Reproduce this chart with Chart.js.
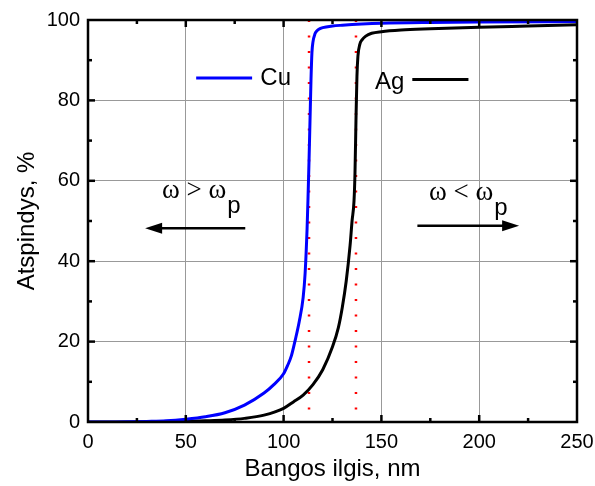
<!DOCTYPE html>
<html>
<head>
<meta charset="utf-8">
<script src="https://cdn.jsdelivr.net/npm/chart.js@4.4.1/dist/chart.umd.min.js"></script>
<style>
  html, body { margin: 0; padding: 0; background: #fff; }
</style>
</head>
<body>
<canvas id="myChart" width="595" height="486"></canvas>
<script>
// Reflectance of Cu and Ag vs wavelength
const cuX = [0, 10, 20, 30, 40, 50, 60, 70, 80, 90, 95, 100, 102, 104, 106, 108, 110, 111, 112, 112.5, 113, 113.5, 114, 114.5, 115, 116, 117, 118, 120, 125, 130, 140, 150, 175, 200, 250];
const cuY = [0, 0, 0.05, 0.15, 0.3, 0.7, 1.3, 2.3, 4.2, 7.2, 9.3, 12, 14, 16.5, 20.5, 25, 31, 37, 48, 56, 65, 75, 85, 92, 94.5, 96.5, 97.3, 97.7, 98.1, 98.5, 98.7, 99, 99.2, 99.4, 99.5, 99.6];

const agX = [0, 20, 40, 50, 60, 70, 80, 90, 100, 105, 110, 115, 120, 125, 128, 130, 132, 134, 135, 136, 136.5, 137, 137.5, 138, 139, 140, 142, 145, 150, 160, 175, 200, 225, 250];
const agY = [0, 0, 0.05, 0.15, 0.3, 0.5, 0.9, 1.7, 3.4, 5, 6.7, 9.3, 13, 18.7, 23.5, 28.5, 35, 44, 50, 55, 62, 75, 86, 91, 94, 95, 96, 96.7, 97.1, 97.5, 97.8, 98.2, 98.5, 98.8];

// plasma edge markers (nm)
const edgeCu = 113;
const edgeAg = 137;

const xTitle = 'Bangos ilgis, nm';
const yTitle = 'Atspindys, %';

const toPoints = (xs, ys) => xs.map((v, i) => ({ x: v, y: ys[i] }));

// frame with inside ticks on all four sides
const frameTicks = {
    id: 'frameTicks',
    afterDatasetsDraw(chart) {
        const { ctx, chartArea: a, scales: { x, y } } = chart;
        ctx.save();
        ctx.strokeStyle = '#000';
        ctx.lineWidth = 2.5;
        const seg = (x1, y1, x2, y2) => { ctx.beginPath(); ctx.moveTo(x1, y1); ctx.lineTo(x2, y2); ctx.stroke(); };
        for (let v = 25; v < 250; v += 25) {
            const px = x.getPixelForValue(v);
            const len = v % 50 === 0 ? 7 : 4;
            seg(px, a.bottom, px, a.bottom - len);
            seg(px, a.top, px, a.top + len);
        }
        for (let v = 10; v < 100; v += 10) {
            const py = y.getPixelForValue(v);
            const len = v % 20 === 0 ? 7 : 4;
            seg(a.left, py, a.left + len, py);
            seg(a.right, py, a.right - len, py);
        }
        ctx.strokeRect(a.left, a.top, a.right - a.left, a.bottom - a.top);
        ctx.restore();
    }
};

// legend entries and omega annotations, placed in data units
const notes = {
    id: 'notes',
    afterDatasetsDraw(chart) {
        const { ctx, scales: { x, y } } = chart;
        ctx.save();
        ctx.textBaseline = 'alphabetic';

        // legend: Cu (line then text), Ag (text then line)
        ctx.lineWidth = 3;
        ctx.strokeStyle = '#0000ff';
        ctx.beginPath();
        ctx.moveTo(x.getPixelForValue(55.3), y.getPixelForValue(85.6));
        ctx.lineTo(x.getPixelForValue(83.9), y.getPixelForValue(85.6));
        ctx.stroke();
        ctx.strokeStyle = '#000';
        ctx.beginPath();
        ctx.moveTo(x.getPixelForValue(165.8), y.getPixelForValue(85.2));
        ctx.lineTo(x.getPixelForValue(194.5), y.getPixelForValue(85.2));
        ctx.stroke();
        ctx.fillStyle = '#000';
        ctx.font = '24px "Liberation Sans", Arial, sans-serif';
        ctx.fillText('Cu', x.getPixelForValue(88.1), y.getPixelForValue(83.8));
        ctx.fillText('Ag', x.getPixelForValue(146.7), y.getPixelForValue(82.8));

        // omega labels
        const omega = (txt, xv, yv) => {
            const px = x.getPixelForValue(xv), py = y.getPixelForValue(yv);
            ctx.font = '27px "Liberation Serif", "Times New Roman", serif';
            ctx.fillText(txt, px, py);
            const w = ctx.measureText(txt).width;
            ctx.font = '24px "Liberation Sans", Arial, sans-serif';
            ctx.fillText('p', px + w + 1, py + 15);
        };
        omega('\u03c9 > \u03c9', 37.8, 55.6);
        omega('\u03c9 < \u03c9', 174.3, 55.3);

        // arrows
        const arrow = (fromX, toX, yv) => {
            const x1 = x.getPixelForValue(fromX), x2 = x.getPixelForValue(toX), py = y.getPixelForValue(yv);
            const dir = Math.sign(x2 - x1);
            ctx.lineWidth = 2.5;
            ctx.strokeStyle = '#000';
            ctx.beginPath();
            ctx.moveTo(x1, py);
            ctx.lineTo(x2 - dir * 12, py);
            ctx.stroke();
            ctx.beginPath();
            ctx.moveTo(x2, py);
            ctx.lineTo(x2 - dir * 17, py - 5.5);
            ctx.lineTo(x2 - dir * 17, py + 5.5);
            ctx.closePath();
            ctx.fill();
        };
        arrow(80.4, 29.2, 48.2);
        arrow(168.4, 220.4, 48.8);
        ctx.restore();
    }
};

function init() {
    Chart.defaults.font.family = '"Liberation Sans", Arial, sans-serif';
    Chart.defaults.color = '#000';

    const config = {
        type: 'line',
        data: {
            datasets: [
                {
                    label: 'Cu',
                    data: toPoints(cuX, cuY),
                    borderColor: '#0000ff',
                    borderWidth: 3,
                    pointRadius: 0,
                    cubicInterpolationMode: 'monotone'
                },
                {
                    label: 'Ag',
                    data: toPoints(agX, agY),
                    borderColor: '#000000',
                    borderWidth: 3,
                    pointRadius: 0,
                    cubicInterpolationMode: 'monotone'
                },
                {
                    label: 'edge Cu',
                    data: [{ x: edgeCu, y: 100 }, { x: edgeCu, y: 0 }],
                    borderColor: '#ff0000',
                    borderWidth: 2.5,
                    borderDash: [2, 13.5],
                    pointRadius: 0
                },
                {
                    label: 'edge Ag',
                    data: [{ x: edgeAg, y: 100 }, { x: edgeAg, y: 0 }],
                    borderColor: '#ff0000',
                    borderWidth: 2.5,
                    borderDash: [2, 13.5],
                    pointRadius: 0
                }
            ]
        },
        options: {
            responsive: false,
            animation: false,
            devicePixelRatio: 1,
            layout: { autoPadding: false, padding: { top: 20, right: 18, left: 0, bottom: 0 } },
            plugins: { legend: { display: false }, tooltip: { enabled: false } },
            scales: {
                x: {
                    type: 'linear',
                    min: 0, max: 250,
                    ticks: { stepSize: 50, font: { size: 20 }, padding: 8, maxRotation: 0 },
                    grid: { color: '#999', lineWidth: 1, drawTicks: false },
                    border: { display: false },
                    title: { display: true, text: xTitle, font: { size: 24 }, padding: { top: 0, bottom: 2 } },
                    afterFit: s => { s.height = 64; s.paddingLeft = 0; s.paddingRight = 0; }
                },
                y: {
                    type: 'linear',
                    min: 0, max: 100,
                    ticks: { stepSize: 20, font: { size: 20 }, padding: 8 },
                    grid: { color: '#999', lineWidth: 1, drawTicks: false },
                    border: { display: false },
                    title: { display: true, text: yTitle, font: { size: 24 }, padding: { top: 12.5, bottom: 0 } },
                    afterFit: s => { s.width = 88; s.paddingTop = 0; s.paddingBottom = 0; }
                }
            }
        },
        plugins: [frameTicks, notes]
    };

    new Chart(document.getElementById('myChart'), config);
}

window.onload = init;
</script>
</body>
</html>
